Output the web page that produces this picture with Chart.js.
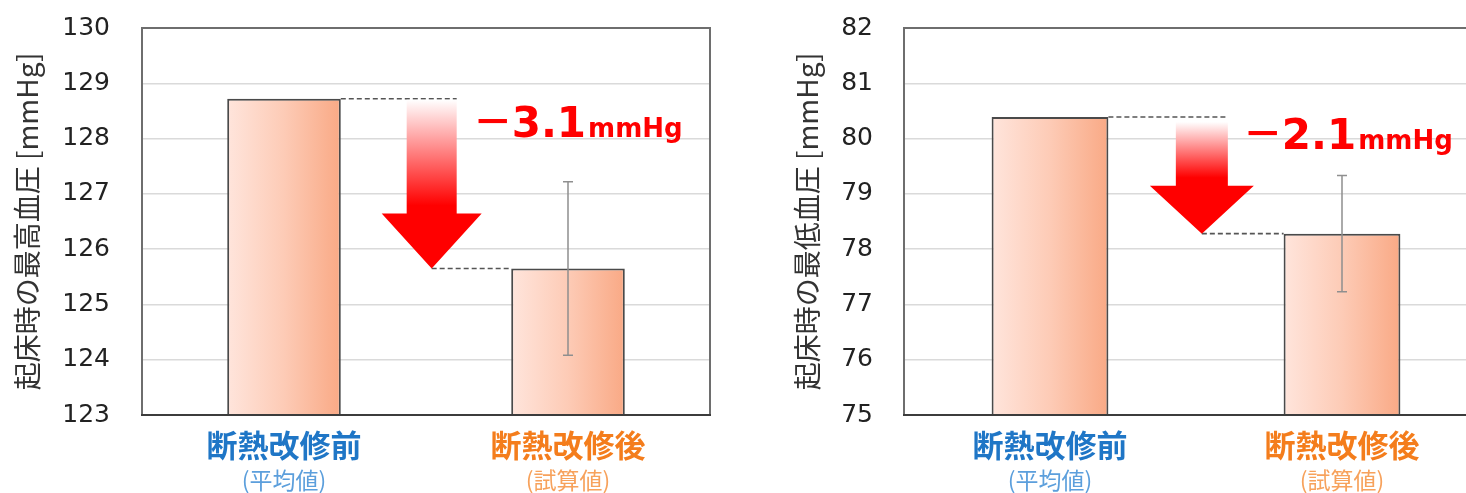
<!DOCTYPE html>
<html lang="ja">
<head>
<meta charset="utf-8">
<title>起床時の血圧</title>
<script src="https://cdn.jsdelivr.net/npm/chart.js@4/dist/chart.umd.min.js"></script>
<style>
  html, body { margin: 0; padding: 0; background: #fff; overflow: hidden; }
  #wrap { position: relative; width: 1466px; height: 493px; overflow: hidden; }
  canvas { position: absolute; top: 0; }
  #sys { left: 0; }
  #dia { left: 780px; }
</style>
</head>
<body>
<div id="wrap">
  <canvas id="sys" width="712" height="493"></canvas>
  <canvas id="dia" width="712" height="493"></canvas>
</div>
<script>
// Categories (two-line labels under each bar)
const categoryMain = ['断熱改修前', '断熱改修後'];
const categorySub = ['(平均値)', '(試算値)'];

// Morning systolic pressure [mmHg]
const systolicValues = [128.72, 125.65];
const systolicErrors = [0, 1.57];
const systolicRange = [123, 130];

// Morning diastolic pressure [mmHg]
const diastolicValues = [80.39, 78.28];
const diastolicErrors = [0, 1.05];
const diastolicRange = [75, 82];

const mainColors = ['#1f76c6', '#f47d1c'];
const subColors = ['#5c9fdc', '#f7a25c'];

// Draws frame, error bars, drop arrow and the category captions
const decorations = {
  id: 'decorations',
  afterDatasetsDraw(chart, args, o) {
    const {ctx, chartArea: a} = chart;
    const xs = chart.scales.x, ys = chart.scales.y;
    const values = chart.data.datasets[0].data;
    const x0 = xs.getPixelForValue(0), x1 = xs.getPixelForValue(1);
    const halfBar = (x1 - x0) * 0.2;
    ctx.save();

    // plot frame
    ctx.strokeStyle = '#6e6e6e';
    ctx.lineWidth = 2;
    ctx.strokeRect(a.left, a.top, a.right - a.left, a.bottom - a.top);
    ctx.strokeStyle = '#3c3c3c';
    ctx.beginPath();
    ctx.moveTo(a.left - 1, a.bottom);
    ctx.lineTo(a.right + 1, a.bottom);
    ctx.stroke();

    // error bars
    ctx.strokeStyle = '#8f8f8f';
    ctx.lineWidth = 1.5;
    o.errors.forEach((e, i) => {
      if (!e) return;
      const cx = xs.getPixelForValue(i);
      const yHi = ys.getPixelForValue(values[i] + e);
      const yLo = ys.getPixelForValue(values[i] - e);
      ctx.beginPath();
      ctx.moveTo(cx, yHi); ctx.lineTo(cx, yLo);
      ctx.moveTo(cx - 5, yHi); ctx.lineTo(cx + 5, yHi);
      ctx.moveTo(cx - 5, yLo); ctx.lineTo(cx + 5, yLo);
      ctx.stroke();
    });

    // difference arrow
    const yTop = ys.getPixelForValue(values[0]);
    const yTip = ys.getPixelForValue(values[1]);
    const cx = x0 + (x1 - x0) * 0.52;
    const sh = o.shaftHalf, hh = o.headHalf;
    const headTop = yTip - o.headLen;
    const sTop = yTop + o.shaftGap;

    ctx.strokeStyle = '#555555';
    ctx.lineWidth = 1.6;
    ctx.setLineDash([5, 3]);
    ctx.beginPath();
    ctx.moveTo(x0 + halfBar, yTop); ctx.lineTo(cx + sh, yTop);
    ctx.moveTo(cx, yTip); ctx.lineTo(x1 - halfBar, yTip);
    ctx.stroke();
    ctx.setLineDash([]);

    const g = ctx.createLinearGradient(0, sTop, 0, headTop - 8);
    g.addColorStop(0, '#ffffff');
    g.addColorStop(1, '#ff0000');
    ctx.fillStyle = g;
    ctx.beginPath();
    ctx.moveTo(cx - sh, sTop);
    ctx.lineTo(cx + sh, sTop);
    ctx.lineTo(cx + sh, headTop);
    ctx.lineTo(cx + hh, headTop);
    ctx.lineTo(cx, yTip);
    ctx.lineTo(cx - hh, headTop);
    ctx.lineTo(cx - sh, headTop);
    ctx.closePath();
    ctx.fill();

    // difference label
    const diff = (values[0] - values[1]).toFixed(1);
    let tx = cx + 44;
    const ty = yTop + o.textDy;
    ctx.fillStyle = '#ff0000';
    ctx.textBaseline = 'alphabetic';
    ctx.textAlign = 'left';
    ctx.font = 'bold 40px "Noto Sans CJK JP"';
    ctx.fillText('－', tx - 3, ty - 1);
    tx += ctx.measureText('－').width - 4;
    ctx.font = 'bold 42px "DejaVu Sans"';
    ctx.fillText(diff, tx, ty);
    tx += ctx.measureText(diff).width + 2;
    ctx.font = 'bold 26px "DejaVu Sans"';
    ctx.fillText('mmHg', tx, ty);

    // category captions
    ctx.textAlign = 'center';
    ctx.textBaseline = 'middle';
    categoryMain.forEach((t, i) => {
      const x = xs.getPixelForValue(i);
      ctx.fillStyle = mainColors[i];
      ctx.font = 'bold 31px "Noto Sans CJK JP"';
      ctx.fillText(t, x, 445);
      ctx.fillStyle = subColors[i];
      ctx.font = '23px "Noto Sans CJK JP"';
      ctx.fillText(categorySub[i], x, 480);
    });
    ctx.restore();
  }
};

function barGradient(c) {
  const chart = c.chart;
  const xs = chart.scales.x;
  if (!xs || !chart.chartArea) return '#fcc3ac';
  const cx = xs.getPixelForValue(c.dataIndex);
  const half = (xs.getPixelForValue(1) - xs.getPixelForValue(0)) * 0.2;
  const g = chart.ctx.createLinearGradient(cx - half, 0, cx + half, 0);
  g.addColorStop(0, '#ffe5dc');
  g.addColorStop(0.5, '#fdcbb6');
  g.addColorStop(1, '#f9a985');
  return g;
}

function makeChart(id, cfg) {
  return new Chart(document.getElementById(id), {
    type: 'bar',
    data: {
      labels: categoryMain,
      datasets: [{
        data: cfg.values,
        backgroundColor: barGradient,
        borderColor: '#4a4a4a',
        borderWidth: 2,
        borderSkipped: false,
        categoryPercentage: 1,
        barPercentage: 0.4
      }]
    },
    options: {
      responsive: false,
      animation: false,
      layout: { padding: { top: 28, right: cfg.padRight, bottom: 0, left: 0 } },
      plugins: {
        legend: { display: false },
        tooltip: { enabled: false },
        decorations: cfg.deco
      },
      scales: {
        x: {
          grid: { display: false },
          border: { display: false },
          ticks: { display: false },
          afterFit(s) { s.height = 78; s.paddingLeft = 0; s.paddingRight = 0; }
        },
        y: {
          min: cfg.range[0],
          max: cfg.range[1],
          afterFit(s) { s.width = cfg.axisWidth; s.paddingTop = 0; s.paddingBottom = 0; },
          border: { display: false },
          grid: { color: '#dadada', lineWidth: 1.5, drawTicks: false },
          ticks: {
            stepSize: 1,
            padding: cfg.tickPad,
            color: '#222222',
            font: { family: '"DejaVu Sans"', size: 25 }
          },
          title: {
            display: true,
            text: cfg.title,
            color: '#333333',
            padding: { top: 11, bottom: 0 },
            font: { family: '"Noto Sans CJK JP"', size: 28 }
          }
        }
      }
    },
    plugins: [decorations]
  });
}

makeChart('sys', {
  values: systolicValues,
  range: systolicRange,
  title: '起床時の最高血圧 [mmHg]',
  axisWidth: 142,
  tickPad: 32,
  padRight: 2,
  deco: { errors: systolicErrors, shaftHalf: 25, headHalf: 50, headLen: 55, shaftGap: 1, textDy: 38 }
});

makeChart('dia', {
  values: diastolicValues,
  range: diastolicRange,
  title: '起床時の最低血圧 [mmHg]',
  axisWidth: 124,
  tickPad: 31,
  padRight: 4,
  deco: { errors: diastolicErrors, shaftHalf: 26, headHalf: 52, headLen: 48, shaftGap: 5, textDy: 32 }
});
</script>
</body>
</html>
